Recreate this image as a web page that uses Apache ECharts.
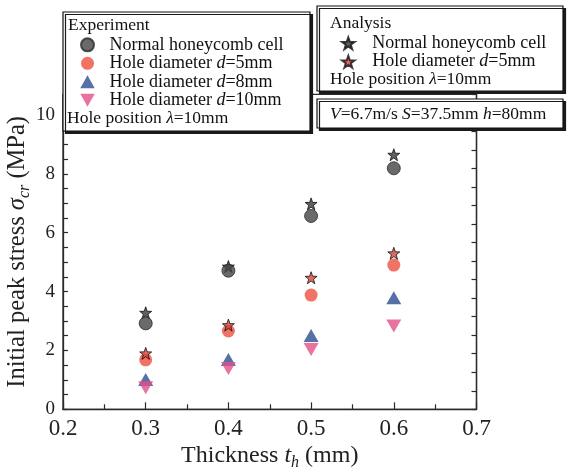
<!DOCTYPE html>
<html>
<head>
<meta charset="utf-8">
<script src="https://cdn.jsdelivr.net/npm/echarts@6/dist/echarts.min.js"></script>
<style>
  html, body { margin: 0; padding: 0; background: #fff; }
  #chart { width: 569px; height: 468px; }
</style>
</head>
<body>
<div id="chart"></div>
<script>
// Wall thickness of the honeycomb cell (mm)
const thickness = [0.3, 0.4, 0.5, 0.6];

// Experiment: initial peak stress (MPa)
const expNormal = [2.92, 4.71, 6.57, 8.19];
const expD5 = [1.68, 2.66, 3.88, 4.90];
const expD8 = [1.01, 1.69, 2.51, 3.79];
const expD10 = [0.73, 1.39, 2.03, 2.83];

// Analysis: initial peak stress (MPa)
const anaNormal = [3.28, 4.85, 6.98, 8.65];
const anaD5 = [1.90, 2.86, 4.47, 5.30];

// Axis settings
const xTicks = [0.2, 0.3, 0.4, 0.5, 0.6, 0.7];
const yTicks = [0, 2, 4, 6, 8, 10];

const FONT = '"Liberation Serif", "Times New Roman", serif';
const STAR = 'path://M50,0L61.76,33.82L97.55,34.55L69.02,56.18L79.39,90.45L50,70L20.61,90.45L30.98,56.18L2.45,34.55L38.24,33.82Z';
const TRI_UP = 'path://M5,0L10,9L0,9Z';
const TRI_DOWN = 'path://M0,0L10,0L5,9Z';

const pairs = ys => thickness.map((x, i) => [x, ys[i]]);

const labels = {
  'exp-normal': 'Normal honeycomb cell',
  'exp-d5': 'Hole diameter {i|d}=5mm',
  'exp-d8': 'Hole diameter {i|d}=8mm',
  'exp-d10': 'Hole diameter {i|d}=10mm',
  'ana-normal': 'Normal honeycomb cell',
  'ana-d5': 'Hole diameter {i|d}=5mm'
};

const legendText = (size, lh) => ({
  fontFamily: FONT, fontSize: size, color: '#111', lineHeight: lh,
  rich: { i: { fontFamily: FONT, fontSize: size, fontStyle: 'italic', color: '#111', lineHeight: lh } }
});

const boxStyle = {
  fill: '#fff', stroke: '#111', lineWidth: 1.2,
  shadowColor: '#1a1a1a', shadowOffsetX: 2.5, shadowOffsetY: 2.5, shadowBlur: 0
};

const txt = (x, y, text) => ({
  type: 'text', x: x, y: y, z: 12,
  style: {
    text: text, fontFamily: FONT, fontSize: 17.5, fill: '#111',
    verticalAlign: 'middle', align: 'left',
    rich: { i: { fontFamily: FONT, fontSize: 17.5, fontStyle: 'italic', color: '#111' } }
  }
});

const chart = echarts.init(document.getElementById('chart'), null, { renderer: 'canvas' });

chart.setOption({
  backgroundColor: '#fff',
  animation: false,
  grid: {
    left: 63, right: 92.5, top: 94.4, bottom: 58.7,
    outerBoundsMode: 'none', containLabel: false,
    show: true, borderColor: '#2a2a2a', borderWidth: 1.3, backgroundColor: 'transparent'
  },
  xAxis: {
    type: 'value',
    min: xTicks[0], max: xTicks[xTicks.length - 1], interval: 0.1,
    axisLine: { show: true, lineStyle: { color: '#2a2a2a', width: 1.3 } },
    axisTick: { show: true, inside: true, length: 7, lineStyle: { color: '#2a2a2a', width: 1.2 } },
    minorTick: { show: true, splitNumber: 2, length: 5, lineStyle: { color: '#2a2a2a', width: 1.2 } },
    splitLine: { show: false },
    axisLabel: {
      fontFamily: FONT, fontSize: 23, color: '#222', margin: 8,
      formatter: v => v.toFixed(1)
    },
    name: 'Thickness {i|t}{sub|h} (mm)',
    nameLocation: 'middle', nameGap: 31, nameMoveOverlap: false,
    nameTextStyle: {
      fontFamily: FONT, fontSize: 24, color: '#222', lineHeight: 30,
      rich: {
        i: { fontFamily: FONT, fontSize: 24, fontStyle: 'italic', color: '#222', lineHeight: 30 },
        sub: { fontFamily: FONT, fontSize: 16, fontStyle: 'italic', color: '#222', verticalAlign: 'bottom', lineHeight: 16 }
      }
    }
  },
  yAxis: [
    {
      type: 'value',
      min: 0, max: 10.7, interval: 2,
      axisLine: { show: true, lineStyle: { color: '#2a2a2a', width: 1.3 } },
      axisTick: { show: true, inside: true, length: 5, lineStyle: { color: '#2a2a2a', width: 1.2 } },
      minorTick: { show: true, splitNumber: 4, length: 5, lineStyle: { color: '#2a2a2a', width: 1.2 } },
      splitLine: { show: false },
      axisLabel: {
        fontFamily: FONT, fontSize: 19, color: '#222', margin: 8,
        formatter: v => (yTicks.indexOf(Math.round(v * 100) / 100) >= 0 ? String(Math.round(v)) : '')
      },
      name: 'Initial peak stress {i|σ}{sub|cr} (MPa)',
      nameLocation: 'middle', nameGap: 30, nameRotate: 90, nameMoveOverlap: false,
      nameTextStyle: {
        fontFamily: FONT, fontSize: 24.5, color: '#222', lineHeight: 30,
        rich: {
          i: { fontFamily: FONT, fontSize: 24.5, fontStyle: 'italic', color: '#222', lineHeight: 30 },
          sub: { fontFamily: FONT, fontSize: 16, fontStyle: 'italic', color: '#222', verticalAlign: 'bottom', lineHeight: 16 }
        }
      }
    },
    {
      type: 'value', position: 'right',
      min: 0, max: 17, interval: 1,
      axisLine: { show: true, lineStyle: { color: '#2a2a2a', width: 1.3 } },
      axisTick: { show: true, inside: true, length: 5, lineStyle: { color: '#2a2a2a', width: 1.2 } },
      axisLabel: { show: false },
      splitLine: { show: false }
    }
  ],
  legend: [
    {
      orient: 'vertical', left: 80, top: 35.6, z: 20, padding: 0,
      itemWidth: 34, itemHeight: 13, itemGap: 0,
      selectedMode: false,
      data: ['exp-normal', 'exp-d5', 'exp-d8', 'exp-d10'],
      formatter: n => labels[n],
      textStyle: legendText(18, 18.5)
    },
    {
      orient: 'vertical', left: 341, top: 34, z: 20, padding: 0,
      itemWidth: 38, itemHeight: 12, itemGap: 0,
      selectedMode: false,
      data: ['ana-normal', 'ana-d5'],
      formatter: n => labels[n],
      textStyle: legendText(18, 18.5)
    }
  ],
  graphic: [
    { type: 'rect', z: 10, shape: { x: 63, y: 12, width: 247, height: 119 }, style: boxStyle },
    { type: 'rect', z: 10, shape: { x: 317, y: 6, width: 246, height: 85 }, style: boxStyle },
    { type: 'rect', z: 10, shape: { x: 317, y: 99, width: 246, height: 29 }, style: boxStyle },
    txt(68, 25, 'Experiment'),
    txt(67, 118, 'Hole position {i|λ}=10mm'),
    txt(330, 23, 'Analysis'),
    txt(330, 79, 'Hole position {i|λ}=10mm'),
    txt(330, 114, '{i|V}=6.7m/s {i|S}=37.5mm {i|h}=80mm')
  ],
  series: [
    {
      name: 'ana-normal', type: 'scatter', z: 2,
      symbol: STAR, symbolSize: 12,
      itemStyle: { color: '#383838', borderColor: '#111', borderWidth: 1 },
      data: pairs(anaNormal)
    },
    {
      name: 'exp-normal', type: 'scatter', z: 3,
      symbol: 'circle', symbolSize: 13,
      itemStyle: { color: '#454545', borderColor: '#2a2a2a', borderWidth: 1 },
      data: pairs(expNormal)
    },
    {
      name: 'exp-d5', type: 'scatter', z: 2,
      symbol: 'circle', symbolSize: 13,
      itemStyle: { color: '#ec5040' },
      data: pairs(expD5)
    },
    {
      name: 'ana-d5', type: 'scatter', z: 3,
      symbol: STAR, symbolSize: 12,
      itemStyle: { color: '#d8453a', borderColor: '#111', borderWidth: 1 },
      data: pairs(anaD5)
    },
    {
      name: 'exp-d8', type: 'scatter', z: 2,
      symbol: TRI_UP, symbolSize: [15, 13],
      itemStyle: { color: '#2a4d8e' },
      data: pairs(expD8)
    },
    {
      name: 'exp-d10', type: 'scatter', z: 3,
      symbol: TRI_DOWN, symbolSize: [15, 13],
      itemStyle: { color: '#e2508a' },
      data: pairs(expD10)
    }
  ]
});
</script>
</body>
</html>
